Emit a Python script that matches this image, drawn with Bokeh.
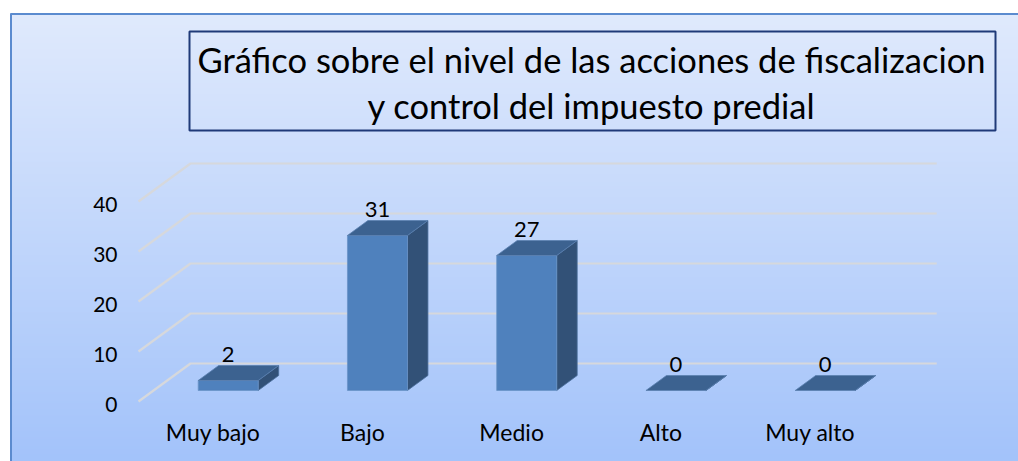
import numpy as np
from bokeh.plotting import figure
from bokeh.models import Range1d
from bokeh.core.properties import value
from bokeh.embed import file_html
from bokeh.resources import INLINE

# ---------------- data ----------------
categories = ["Muy bajo", "Bajo", "Medio", "Alto", "Muy alto"]
counts = [2, 31, 27, 0, 0]
y_ticks = [0, 10, 20, 30, 40]
title_lines = ["Gráfico sobre el nivel de las acciones de fiscalizacion",
               "y control del impuesto predial"]

# ---------------- layout (pixel geometry of the 3D projection) ----------------
W, H = 1018, 461
ORIGIN_X, ORIGIN_Y = 190.0, 363.0       # back-wall origin (screen px)
PX_PER_CAT, PX_PER_VAL = 149.25, 5.0
DEPTH_DX, DEPTH_DY = -52.0, 38.0        # full floor depth, back -> front (px)
BAR_W_PX = 60.0
F_BACK, F_FRONT = 0.316, 0.71           # bar position in depth

FONT = "Lato"


def ux(px):
    return (px - ORIGIN_X) / PX_PER_CAT


def vy(py):
    return (ORIGIN_Y - py) / PX_PER_VAL


DU = DEPTH_DX / PX_PER_CAT      # data units per full depth (x)
DV = -DEPTH_DY / PX_PER_VAL     # data units per full depth (y)
BW = BAR_W_PX / PX_PER_CAT

p = figure(width=W, height=H, output_backend="svg", toolbar_location=None,
           x_range=Range1d(ux(0), ux(W)),
           y_range=Range1d(vy(H), vy(0)),
           x_axis_type=None, y_axis_type=None, min_border=0)
p.grid.visible = False
p.outline_line_color = None
p.background_fill_color = "white"
p.border_fill_color = "white"

# ---------------- gradient chart-area background ----------------
top_c = np.array([224, 234, 253], dtype=float)
bot_c = np.array([163, 195, 250], dtype=float)
n = 300
t = np.linspace(0, 1, n)[:, None]      # row 0 = bottom
cols = bot_c * (1 - t) + top_c * t
img = np.empty((n, 1), dtype=np.uint32)
view = img.view(dtype=np.uint8).reshape((n, 1, 4))
view[:, 0, 0] = cols[:, 0]
view[:, 0, 1] = cols[:, 1]
view[:, 0, 2] = cols[:, 2]
view[:, 0, 3] = 255
bx0, by0 = ux(10), vy(H)
p.image_rgba(image=[img], x=bx0, y=by0, dw=ux(W) - bx0, dh=vy(13) - by0)

# outer border (left and top edges visible)
p.segment(x0=[ux(10.5), ux(10)], y0=[vy(13), vy(13.5)],
          x1=[ux(10.5), ux(W)], y1=[vy(H), vy(13.5)],
          line_color="#5b8bcf", line_width=2)

# ---------------- gridlines (back wall + side wall diagonals) ----------------
n_cat = len(categories)
for tk in y_ticks:
    p.line(x=[DU, 0, n_cat], y=[tk + DV, tk, tk], line_color="#d6d8dc", line_width=2.2)

# y tick labels
p.text(x=[ux(117)] * len(y_ticks), y=[tk + DV - 0.6 for tk in y_ticks],
       text=[str(tk) for tk in y_ticks], text_align="right", text_baseline="middle",
       text_font=value(FONT), text_font_size="21px", text_color="#000000")

# ---------------- 3D bars ----------------
FRONT_C, TOP_C, SIDE_C = "#4f81bd", "#3c6290", "#325177"
for i, val in enumerate(counts):
    c = i + 0.5
    fl = c - BW / 2 + DU * F_FRONT
    fr = fl + BW
    fb = DV * F_FRONT
    bl = c - BW / 2 + DU * F_BACK
    br = bl + BW
    bb = DV * F_BACK
    # side face
    p.patch(x=[fr, br, br, fr], y=[fb, bb, bb + val, fb + val],
            fill_color=SIDE_C, line_color="#4a6f9c", line_width=0.8)
    # front face
    if val > 0:
        p.quad(left=[fl], right=[fr], bottom=[fb], top=[fb + val],
               fill_color=FRONT_C, line_color="#6b94c8", line_width=0.8)
    # top face
    p.patch(x=[fl, fr, br, bl], y=[fb + val, fb + val, bb + val, bb + val],
            fill_color=TOP_C, line_color="#5a80b0", line_width=0.8)

# value labels
p.text(x=[i + 0.5 + DU * F_FRONT for i in range(n_cat)],
       y=[v + DV * F_BACK + 2.3 for v in counts],
       text=[str(v) for v in counts], text_align="center", text_baseline="middle",
       text_font=value(FONT), text_font_size="22px", text_color="#000000")

# category labels
p.text(x=[i + 0.5 + DU for i in range(n_cat)], y=[vy(431)] * n_cat,
       text=categories, text_align="center", text_baseline="middle",
       text_font=value(FONT), text_font_size="23px", text_color="#000000")

# ---------------- title box ----------------
p.quad(left=[ux(189)], right=[ux(995)], top=[vy(31)], bottom=[vy(130)],
       fill_color=None, line_color="#1f3a78", line_width=2)
p.text(x=[ux(591)] * 2, y=[vy(59), vy(105)], text=title_lines,
       text_align="center", text_baseline="middle",
       text_font=value(FONT), text_font_size="34.5px", text_color="#000000")

open("out.html", "w").write(file_html(p, INLINE))
